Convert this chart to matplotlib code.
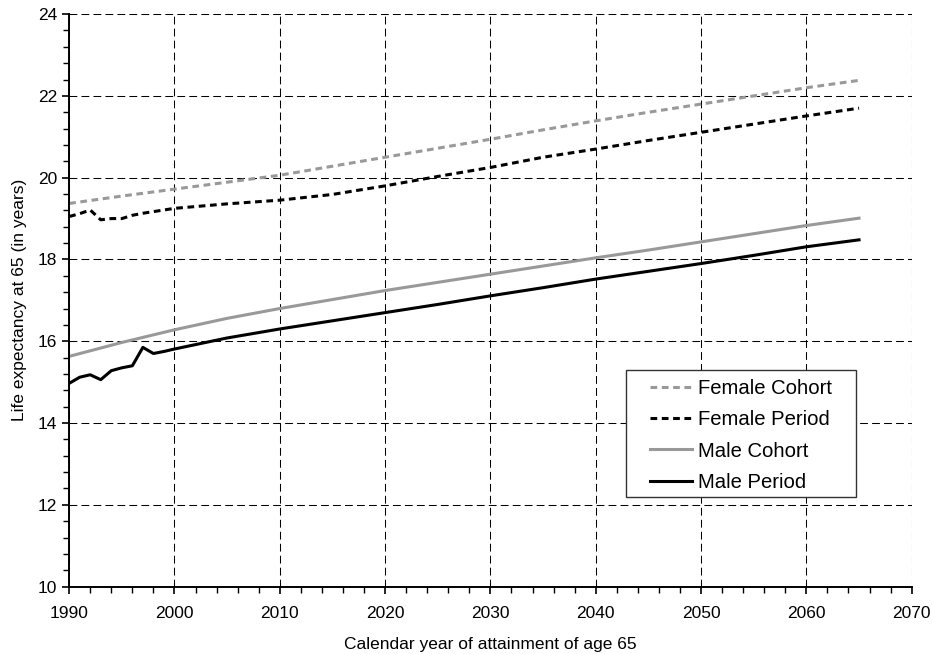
import matplotlib
matplotlib.use("Agg")
import matplotlib.pyplot as plt
from matplotlib.patches import Rectangle
from matplotlib.ticker import MultipleLocator

plt.rcParams['font.family'] = ['Liberation Sans', 'DejaVu Sans']

# cohort series read every 5 years
years_cohort = [1990, 1995, 2000, 2005, 2010, 2015, 2020, 2025, 2030,
                2035, 2040, 2045, 2050, 2055, 2060, 2065]
female_cohort = [19.37, 19.55, 19.72, 19.89, 20.06, 20.28, 20.50, 20.72, 20.94,
                 21.17, 21.39, 21.60, 21.80, 22.00, 22.20, 22.38]
male_cohort = [15.63, 15.97, 16.28, 16.56, 16.80, 17.02, 17.24, 17.44, 17.64,
               17.84, 18.04, 18.23, 18.43, 18.63, 18.83, 19.01]

# period series: yearly in the 1990s (bumpy), then every 5 years
years_period = [1990, 1991, 1992, 1993, 1994, 1995, 1996, 1997, 1998, 1999,
                2000, 2005, 2010, 2015, 2020, 2025, 2030, 2035, 2040, 2045,
                2050, 2055, 2060, 2065]
female_period = [19.05, 19.12, 19.21, 18.97, 19.00, 19.00, 19.08, 19.13, 19.17, 19.21,
                 19.25, 19.36, 19.45, 19.59, 19.80, 20.03, 20.25, 20.50, 20.70, 20.91,
                 21.11, 21.31, 21.51, 21.70]
male_period = [14.97, 15.12, 15.18, 15.06, 15.28, 15.35, 15.40, 15.85, 15.70, 15.75,
               15.81, 16.08, 16.30, 16.50, 16.70, 16.90, 17.11, 17.31, 17.52, 17.71,
               17.90, 18.10, 18.31, 18.48]

labels = ['Female Cohort', 'Female Period', 'Male Cohort', 'Male Period']

grey = '#999999'

fig = plt.figure(figsize=(9.32, 6.54), dpi=100)
ax = fig.add_axes([0.0742, 0.1031, 0.9040, 0.8753])

lw = 2.2
ax.plot(years_cohort, female_cohort, color=grey, lw=lw, dashes=(2.2, 1.5), label=labels[0])
ax.plot(years_period, female_period, color='black', lw=lw, dashes=(2.2, 1.5), label=labels[1])
ax.plot(years_cohort, male_cohort, color=grey, lw=lw, label=labels[2])
ax.plot(years_period, male_period, color='black', lw=lw, label=labels[3])

ax.set_xlim(1990, 2070)
ax.set_ylim(10, 24)
ax.xaxis.set_major_locator(MultipleLocator(10))
ax.xaxis.set_minor_locator(MultipleLocator(2))
ax.yaxis.set_major_locator(MultipleLocator(2))
ax.yaxis.set_minor_locator(MultipleLocator(0.4))
ax.tick_params(which='major', direction='out', length=5, width=1.2, labelsize=12.5, color='black')
ax.tick_params(which='minor', direction='out', length=4, width=1.0, color='black')
ax.tick_params(axis='x', pad=9)

ax.grid(True, which='major', color='black', lw=0.75, linestyle=(0, (7.5, 4)))
ax.set_axisbelow(True)

for s in ['top', 'right']:
    ax.spines[s].set_visible(False)
for s in ['left', 'bottom']:
    ax.spines[s].set_linewidth(1.4)

ax.set_xlabel('Calendar year of attainment of age 65', fontsize=12.5, labelpad=11.5)
ax.set_ylabel('Life expectancy at 65 (in years)', fontsize=12.5, labelpad=8)

# legend box drawn by hand so it sits where the original one does
box = Rectangle((0.661, 0.157), 0.2725, 0.221, transform=ax.transAxes,
                facecolor='white', edgecolor='#333333', lw=1.0, zorder=5)
ax.add_patch(box)
leg = ax.legend(loc='upper left', bbox_to_anchor=(0.689, 0.363), frameon=False,
                fontsize=14.6, borderpad=0, borderaxespad=0, handlelength=2.1,
                handletextpad=0.3, labelspacing=0.61)
leg.set_zorder(6)

plt.savefig('out.png', dpi=100, format='png')
